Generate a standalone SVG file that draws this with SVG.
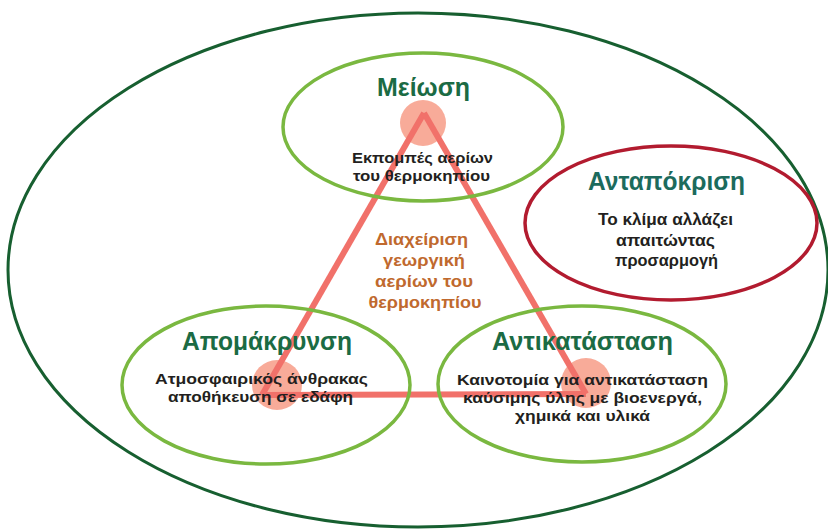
<svg xmlns="http://www.w3.org/2000/svg" width="828" height="531" viewBox="0 0 828 531">
<style>
.bg{fill:#ffffff}
.outer{fill:none;stroke:#175f30;stroke-width:3}
.green{fill:none;stroke:#7ab840;stroke-width:3.5}
.red{fill:none;stroke:#b21b2f;stroke-width:3.5}
.dot{fill:#f7a28e;opacity:0.9}
.edge{fill:none;stroke:#f1716a;stroke-width:6;stroke-linejoin:miter}
text{font-family:"Liberation Sans","Arimo","DejaVu Sans",sans-serif;font-weight:700;text-anchor:middle}
.title{font-size:25px;fill:#1b6b44}
.title2{font-size:25px;fill:#1c6b5d}
.body{font-size:15.5px;fill:#231f20}
.body2{font-size:16px;fill:#231f20}
.core{font-size:17px;fill:#c0692e}
</style>
<rect class="bg" x="0" y="0" width="828" height="531"/>
<g id="frame">
<ellipse class="outer" cx="418" cy="270" rx="410" ry="257"/>
</g>
<g id="vertices">
<circle class="dot" cx="423" cy="123" r="23"/>
<circle class="dot" cx="277" cy="385" r="25"/>
<circle class="dot" cx="586" cy="383" r="25"/>
</g>
<g id="connectors">
<line class="edge" x1="424" y1="113" x2="262" y2="395"/>
<line class="edge" x1="262" y1="395" x2="586" y2="394"/>
<line class="edge" x1="586" y1="394" x2="424" y2="113"/>
</g>
<g id="meiosi">
<ellipse class="green" cx="423" cy="127" rx="140" ry="74"/>
<text class="title" x="423.5" y="96" textLength="93" lengthAdjust="spacingAndGlyphs">Μείωση</text>
<text class="body" x="422.5" y="163" textLength="141" lengthAdjust="spacingAndGlyphs">Εκπομπές αερίων</text>
<text class="body" x="421.5" y="181" textLength="137" lengthAdjust="spacingAndGlyphs">του θερμοκηπίου</text>
</g>
<g id="antapokrisi">
<ellipse class="red" cx="671" cy="223" rx="146" ry="77"/>
<text class="title2" x="666.5" y="190" textLength="157" lengthAdjust="spacingAndGlyphs">Ανταπόκριση</text>
<text class="body2" x="665.5" y="225" textLength="135" lengthAdjust="spacingAndGlyphs">Το κλίμα αλλάζει</text>
<text class="body2" x="665.5" y="246" textLength="99" lengthAdjust="spacingAndGlyphs">απαιτώντας</text>
<text class="body2" x="666.5" y="266" textLength="103" lengthAdjust="spacingAndGlyphs">προσαρμογή</text>
</g>
<g id="apomakrynsi">
<ellipse class="green" cx="266" cy="385" rx="144" ry="79"/>
<text class="title" x="267" y="350" textLength="170" lengthAdjust="spacingAndGlyphs">Απομάκρυνση</text>
<text class="body" x="261.5" y="384" textLength="213" lengthAdjust="spacingAndGlyphs">Ατμοσφαιρικός άνθρακας</text>
<text class="body" x="260.5" y="402" textLength="185" lengthAdjust="spacingAndGlyphs">αποθήκευση σε εδάφη</text>
</g>
<g id="antikatastasi">
<ellipse class="green" cx="582" cy="384" rx="144" ry="78"/>
<text class="title" x="582.5" y="350" textLength="181" lengthAdjust="spacingAndGlyphs">Αντικατάσταση</text>
<text class="body" x="582.5" y="385" textLength="251" lengthAdjust="spacingAndGlyphs">Καινοτομία για αντικατάσταση</text>
<text class="body" x="582.5" y="403" textLength="239" lengthAdjust="spacingAndGlyphs">καύσιμης ύλης με βιοενεργά,</text>
<text class="body" x="582.5" y="421" textLength="135" lengthAdjust="spacingAndGlyphs">χημικά και υλικά</text>
</g>
<g id="core">
<text class="core" x="421.5" y="245" textLength="93" lengthAdjust="spacingAndGlyphs">Διαχείριση</text>
<text class="core" x="424" y="266" textLength="82" lengthAdjust="spacingAndGlyphs">γεωργική</text>
<text class="core" x="424" y="287" textLength="98" lengthAdjust="spacingAndGlyphs">αερίων του</text>
<text class="core" x="425" y="308" textLength="113" lengthAdjust="spacingAndGlyphs">θερμοκηπίου</text>
</g>
</svg>
